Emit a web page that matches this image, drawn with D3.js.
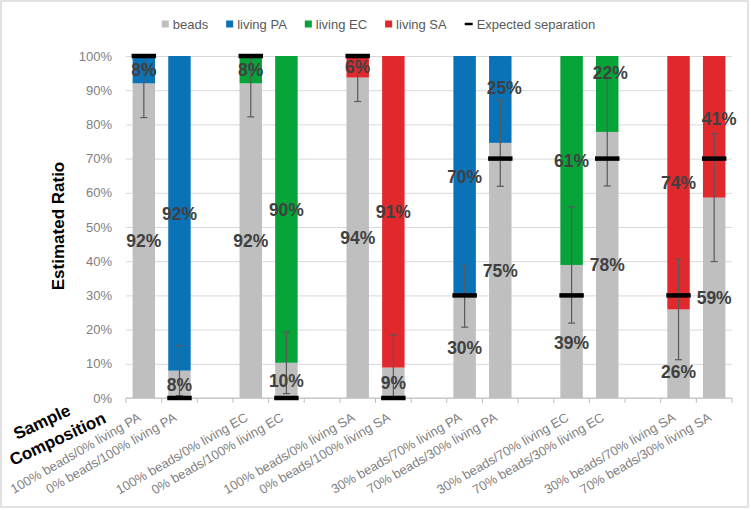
<!DOCTYPE html>
<html>
<head>
<meta charset="utf-8">
<script src="https://cdn.jsdelivr.net/npm/d3@7"></script>
<style>
  html, body { margin: 0; padding: 0; background: #fff; }
  svg { display: block; }
</style>
</head>
<body>
<svg id="chart" width="751" height="510"></svg>
<script>
// ---------------- DATA ----------------
const categories = [
  "100% beads/0% living PA", "0% beads/100% living PA", "",
  "100% beads/0% living EC", "0% beads/100% living EC", "",
  "100% beads/0% living SA", "0% beads/100% living SA", "",
  "30% beads/70% living PA", "70% beads/30% living PA", "",
  "30% beads/70% living EC", "70% beads/30% living EC", "",
  "30% beads/70% living SA", "70% beads/30% living SA"
];
const beads    = [92, 8, 0, 92, 10.3, 0, 93.7, 8.9, 0, 29.7, 74.6, 0, 38.9, 77.8, 0, 25.9, 58.6];
const livingPA = [8, 92, 0, 0, 0, 0, 0, 0, 0, 70.3, 25.4, 0, 0, 0, 0, 0, 0];
const livingEC = [0, 0, 0, 8, 89.7, 0, 0, 0, 0, 0, 0, 0, 61.1, 22.2, 0, 0, 0];
const livingSA = [0, 0, 0, 0, 0, 0, 6.3, 91.1, 0, 0, 0, 0, 0, 0, 0, 74.1, 41.4];
const beadsError = [10, 7.3, null, 9.8, 9, null, 7, 9.5, null, 9, 12.7, null, 17, 15.8, null, 14.7, 18.7];
const expectedSeparation = [100, 0, null, 100, 0, null, 100, 0, null, 30, 70, null, 30, 70, null, 30, 70];
const yTicks = [0, 10, 20, 30, 40, 50, 60, 70, 80, 90, 100];
const seriesNames = ["beads", "living PA", "living EC", "living SA"];
const seriesColors = ["#bfbfbf", "#0a73b7", "#06a338", "#e1282d"];

// ---------------- STYLE CONSTANTS ----------------
const FONT = "'Liberation Sans', Arial, sans-serif";
// manual label nudges (px) to mirror hand-placed labels in the original
const labelNudge = {
  "10-1": [4, -12], "12-0": [0, 11], "13-1": [3, -21], "15-0": [0, 18], "16-1": [5, -8]
};

const svg = d3.select("#chart");

// outer border
svg.append("rect").attr("x", 1).attr("y", 1).attr("width", 747).attr("height", 506)
  .attr("fill", "#fff").attr("stroke", "#d9d9d9").attr("stroke-width", 1.5);

const x = d3.scaleBand().domain(d3.range(categories.length))
  .range([126, 732]).paddingInner(0.37).paddingOuter(0.185);
const y = d3.scaleLinear().domain([0, 100]).range([398, 56]);

// gridlines
svg.append("g").attr("transform", "translate(126,0)")
  .call(d3.axisLeft(y).tickValues(yTicks).tickSize(-606).tickFormat(""))
  .call(g => g.select(".domain").remove())
  .call(g => g.selectAll("line").attr("stroke", "#d9d9d9").attr("stroke-width", 1));

// y tick labels
svg.append("g").attr("transform", "translate(126,0)")
  .call(d3.axisLeft(y).tickValues(yTicks).tickSize(0).tickPadding(14).tickFormat(d => d + "%"))
  .call(g => g.select(".domain").remove())
  .call(g => g.selectAll("text").attr("font-family", FONT).attr("font-size", 13).attr("fill", "#808080"));

// stacked bars
const rows = categories.map((c, i) => ({
  i, "beads": beads[i], "living PA": livingPA[i], "living EC": livingEC[i], "living SA": livingSA[i]
}));
const stacked = d3.stack().keys(seriesNames)(rows);
svg.append("g").selectAll("g").data(stacked).join("g")
  .attr("fill", (d, k) => seriesColors[k])
  .selectAll("rect").data(d => d.filter(s => s[1] - s[0] > 0)).join("rect")
  .attr("x", d => x(d.data.i))
  .attr("width", x.bandwidth())
  .attr("y", d => y(d[1]))
  .attr("height", d => y(d[0]) - y(d[1]));

// x axis line and ticks
const xAxisG = svg.append("g").attr("transform", "translate(0,398)");
xAxisG.append("line").attr("x1", 126).attr("x2", 732).attr("stroke", "#bfbfbf").attr("stroke-width", 1);
xAxisG.selectAll("line.tk").data(d3.range(categories.length + 1)).join("line").attr("class", "tk")
  .attr("x1", i => x.range()[0] + i * x.step()).attr("x2", i => x.range()[0] + i * x.step())
  .attr("y1", 0).attr("y2", 5).attr("stroke", "#bfbfbf");

// x tick labels (rotated)
svg.append("g").attr("transform", "translate(0,398)")
  .call(d3.axisBottom(x).tickSize(0).tickFormat(i => categories[i]))
  .call(g => g.select(".domain").remove())
  .call(g => g.selectAll("text")
    .attr("x", 0).attr("y", 0).attr("dy", 0)
    .attr("text-anchor", "end")
    .attr("transform", "translate(-2,22) rotate(-30)")
    .attr("font-family", FONT).attr("font-size", 13).attr("fill", "#808080"));

// error bars on beads
const errG = svg.append("g").attr("stroke", "#595959").attr("stroke-width", 1.2);
categories.forEach((c, i) => {
  if (beadsError[i] == null) return;
  const cx = x(i) + x.bandwidth() / 2;
  const lo = Math.max(0, beads[i] - beadsError[i]);
  const hi = Math.min(100, beads[i] + beadsError[i]);
  errG.append("line").attr("x1", cx).attr("x2", cx).attr("y1", y(lo)).attr("y2", y(hi));
  errG.append("line").attr("x1", cx - 3.5).attr("x2", cx + 3.5).attr("y1", y(lo)).attr("y2", y(lo));
  errG.append("line").attr("x1", cx - 3.5).attr("x2", cx + 3.5).attr("y1", y(hi)).attr("y2", y(hi));
});

// expected separation markers
svg.append("g").selectAll("line").data(expectedSeparation.map((v, i) => ({ v, i })).filter(d => d.v != null))
  .join("line")
  .attr("x1", d => x(d.i) - 1).attr("x2", d => x(d.i) + x.bandwidth() + 1)
  .attr("y1", d => y(d.v)).attr("y2", d => y(d.v))
  .attr("stroke", "#000").attr("stroke-width", 4.5);

// data labels
const labels = [];
stacked.forEach((s, k) => {
  s.forEach(seg => {
    const v = seg[1] - seg[0];
    if (v <= 0) return;
    const i = seg.data.i;
    const key = i + "-" + (k === 0 ? 0 : 1);
    const nud = labelNudge[key] || [0, 0];
    labels.push({
      x: x(i) + x.bandwidth() / 2 + nud[0],
      y: y((seg[0] + seg[1]) / 2) + nud[1],
      t: Math.round(v) + "%"
    });
  });
});
svg.append("g").selectAll("text").data(labels).join("text")
  .attr("x", d => d.x).attr("y", d => d.y).attr("dy", "0.36em")
  .attr("text-anchor", "middle")
  .attr("font-family", FONT).attr("font-size", 17.5).attr("font-weight", "bold")
  .attr("fill", "#404040")
  .text(d => d.t);

// axis titles
svg.append("text").attr("transform", "translate(64,226) rotate(-90)")
  .attr("text-anchor", "middle").attr("font-family", FONT).attr("font-size", 17)
  .attr("font-weight", "bold").attr("fill", "#000").text("Estimated Ratio");
svg.append("text").attr("transform", "translate(17,440) rotate(-25)")
  .attr("font-family", FONT).attr("font-size", 17)
  .attr("font-weight", "bold").attr("fill", "#000").text("Sample");
svg.append("text").attr("transform", "translate(13,466) rotate(-25)")
  .attr("font-family", FONT).attr("font-size", 17)
  .attr("font-weight", "bold").attr("fill", "#000").text("Composition");

// legend
const legendItems = seriesNames.map((n, k) => ({ name: n, color: seriesColors[k], type: "rect" }))
  .concat([{ name: "Expected separation", color: "#000", type: "dash" }]);
const legG = svg.append("g").attr("transform", "translate(0,24)");
const items = legG.selectAll("g").data(legendItems).join("g");
items.each(function (d) {
  const g = d3.select(this);
  if (d.type === "rect") {
    g.append("rect").attr("x", 0).attr("y", -3.5).attr("width", 7).attr("height", 7).attr("fill", d.color);
  } else {
    g.append("line").attr("x1", 0).attr("x2", 8).attr("y1", 0).attr("y2", 0)
      .attr("stroke", d.color).attr("stroke-width", 2.5);
  }
  const t = g.append("text").attr("x", d.type === "rect" ? 11 : 12).attr("y", 0).attr("dy", "0.35em")
    .attr("font-family", FONT).attr("font-size", 13).attr("fill", "#595959").text(d.name);
  d.w = (d.type === "rect" ? 11 : 12) + t.node().getComputedTextLength();
});
let total = 0;
legendItems.forEach((d, k) => { d.off = total; total += d.w + (k < legendItems.length - 1 ? 18 : 0); });
const start = 378.5 - total / 2;
items.attr("transform", d => `translate(${start + d.off},0)`);
</script>
</body>
</html>
